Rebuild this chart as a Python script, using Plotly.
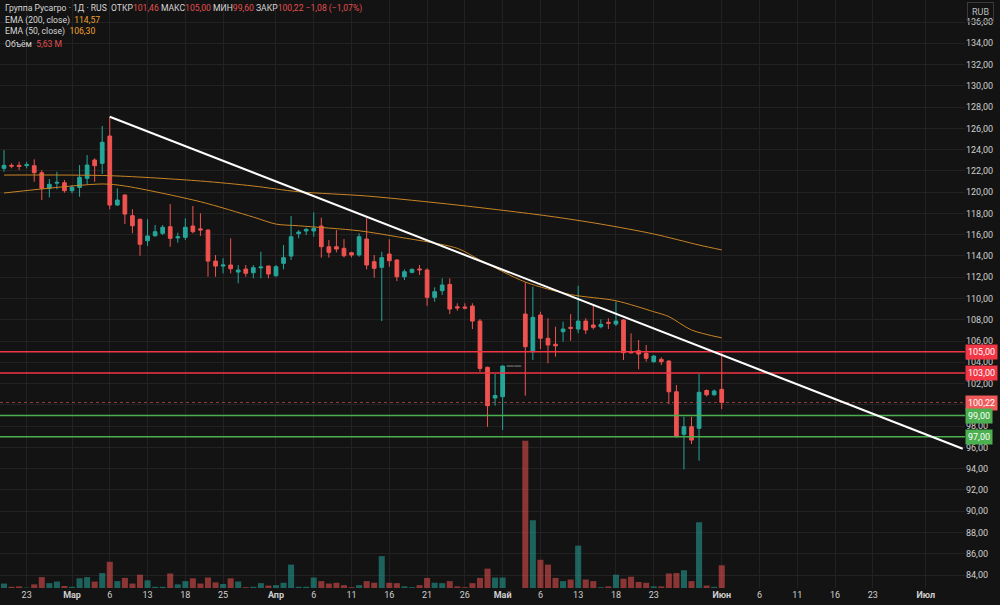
import plotly.graph_objects as go

# ---------------- data ----------------
bar_index = list(range(96))

opens = [122.24, 122.52, 122.52, 122.50, 122.49, 121.83, 120.36, 120.85, 120.89, 120.14,
         120.45, 121.30, 123.02, 122.71, 125.28, 118.79, 119.73, 117.79, 117.45, 115.43,
         115.90, 116.13, 116.75, 115.70, 115.75, 116.82, 116.55, 116.44, 113.52, 113.05,
         113.15, 112.49, 112.77, 112.42, 112.88, 113.06, 112.14, 113.31, 113.99, 116.10,
         116.35, 116.35, 116.82, 114.87, 114.87, 114.72, 114.31, 114.09, 115.59, 113.46,
         112.93, 114.18, 113.62, 112.05, 112.46, 112.78, 112.68, 110.11, 110.73, 111.33,
         109.22, 109.20, 109.29, 107.88, 103.53, 100.64, 100.77, 103.65, 103.65, 108.54,
         104.99, 108.45, 106.26, 105.70, 106.88, 107.29, 107.13, 107.88, 107.51, 107.35,
         107.76, 107.60, 107.98, 105.00, 105.09, 104.85, 104.06, 104.28, 104.12, 101.23,
         97.23, 97.94, 97.79, 101.35, 100.95, 101.46]
highs = [123.96, 122.71, 122.86, 122.86, 123.09, 122.08, 121.23, 121.92, 121.14, 120.67,
         122.55, 123.49, 123.18, 126.22, 127.09, 120.36, 119.80, 118.39, 117.50, 117.45,
         116.91, 116.91, 118.88, 116.19, 117.54, 118.70, 118.01, 116.50, 114.09, 113.78,
         115.66, 113.15, 113.15, 113.15, 114.40, 113.10, 113.15, 115.03, 117.76, 116.44,
         116.66, 118.10, 117.60, 115.50, 116.44, 115.59, 114.40, 116.13, 117.60, 114.09,
         114.40, 115.57, 113.70, 112.74, 112.84, 113.15, 112.84, 111.05, 111.90, 111.90,
         109.55, 109.55, 109.55, 108.07, 103.60, 102.90, 103.70, 103.65, 103.65, 111.52,
         111.11, 108.76, 108.14, 107.35, 107.82, 108.54, 111.20, 108.14, 109.39, 108.04,
         108.14, 109.70, 108.05, 106.73, 106.10, 105.63, 104.69, 104.47, 104.20, 101.87,
         98.88, 98.88, 102.90, 101.45, 101.45, 105.00]
lows = [121.92, 122.24, 122.08, 122.24, 120.98, 119.26, 119.51, 120.27, 119.95, 119.89,
        119.57, 120.77, 120.98, 121.71, 118.39, 118.70, 117.00, 116.13, 114.02, 114.94,
        115.81, 115.97, 114.87, 115.25, 115.50, 116.13, 115.88, 112.05, 112.05, 112.37,
        112.37, 111.43, 112.05, 111.90, 111.90, 111.90, 112.05, 112.74, 113.62, 115.66,
        115.97, 115.81, 113.84, 113.84, 114.34, 113.87, 113.87, 113.93, 112.74, 111.95,
        107.88, 112.99, 111.64, 111.74, 112.37, 112.21, 109.32, 109.70, 110.33, 108.54,
        108.85, 108.98, 107.13, 103.12, 97.94, 99.92, 97.63, 103.65, 103.65, 100.86,
        104.22, 105.25, 103.91, 104.53, 105.94, 106.03, 106.73, 106.66, 107.10, 107.20,
        107.13, 107.41, 104.22, 104.85, 103.34, 104.06, 103.96, 103.75, 100.08, 96.95,
        93.94, 96.32, 94.75, 100.80, 100.85, 99.60]
closes = [122.52, 122.45, 122.42, 122.58, 121.83, 120.36, 120.74, 120.92, 120.14, 120.45,
          121.40, 122.55, 122.49, 124.69, 118.79, 119.26, 117.94, 116.84, 115.10, 115.88,
          116.28, 116.70, 115.66, 115.80, 116.70, 116.28, 116.45, 113.52, 113.05, 113.15,
          112.80, 112.68, 112.37, 112.90, 112.96, 112.30, 112.99, 113.84, 115.81, 116.25,
          116.50, 116.60, 114.87, 114.34, 114.65, 114.02, 114.09, 115.81, 113.15, 112.84,
          113.84, 113.55, 112.05, 112.52, 112.74, 112.70, 110.11, 110.64, 111.27, 109.01,
          109.12, 109.10, 107.88, 103.43, 99.92, 100.88, 103.65, 103.65, 103.65, 105.47,
          108.23, 106.26, 105.63, 105.55, 107.13, 107.20, 107.88, 107.04, 107.29, 107.57,
          107.68, 107.88, 104.90, 104.90, 104.78, 104.38, 104.59, 104.06, 101.23, 97.00,
          97.94, 96.69, 101.18, 100.95, 101.30, 100.22]
volumes_m = [1.1, 0.3, 0.4, 0.1, 0.9, 2.7, 1.2, 1.6, 0.5, 0.3,
             2.4, 2.7, 1.6, 3.7, 6.5, 1.7, 2.5, 1.1, 3.3, 1.9,
             0.3, 0.3, 3.6, 0.9, 1.7, 2.4, 1.1, 2.6, 1.4, 1.0,
             2.4, 1.6, 0.2, 0.3, 1.2, 0.6, 0.7, 1.3, 5.8, 0.3,
             0.3, 2.6, 1.7, 1.1, 1.3, 0.7, 0.2, 0.7, 1.7, 1.3,
             7.9, 1.3, 1.2, 0.4, 0.2, 0.7, 2.5, 1.3, 1.2, 1.7,
             0.4, 0.2, 1.2, 2.5, 4.8, 2.6, 2.6, 0.0, 0.0, 36.5,
             16.8, 7.0, 5.8, 2.5, 1.7, 2.1, 10.5, 2.1, 1.7, 0.2,
             0.4, 3.3, 2.3, 2.8, 1.5, 1.3, 0.4, 0.4, 3.6, 3.7,
             4.4, 1.7, 16.3, 0.6, 0.3, 5.63]
no_trade_bars = [67, 68]

ema200_index = [0, 14, 26, 33, 39, 48, 60, 72, 79, 86, 92, 95]
ema200_values = [121.61, 121.55, 121.05, 120.58, 120.04, 119.64, 118.79, 117.76, 117.00, 116.07, 115.03, 114.57]
ema50_index = [0, 13, 16, 26, 33, 36, 39, 47, 52, 60, 63, 69, 75, 81, 86, 88, 91, 95]
ema50_values = [119.92, 120.77, 120.58, 119.10, 117.66, 117.00, 116.84, 116.37, 115.81, 114.72,
                113.62, 111.55, 110.37, 109.79, 108.76, 108.30, 107.04, 106.30]

trend_index = [14, 126.9]
trend_price = [127.09, 95.87]

resistance_levels = [105.0, 103.0]
support_levels = [99.0, 97.0]
last_price = 100.22

x_tick_index = [3, 9, 14, 19, 24, 29, 36, 41, 46, 51, 56, 61, 66, 71, 76, 81, 86, 95, 100, 105, 110, 115, 122]
x_tick_text = ['23', '<b>Мар</b>', '6', '13', '18', '25', '<b>Апр</b>', '6', '11', '16', '21', '26',
               '<b>Май</b>', '6', '13', '18', '23', '<b>Июн</b>', '6', '11', '16', '23', '<b>Июл</b>']
y_tick_values = list(range(84, 137, 2))
y_tick_text = ['' if v == 100 else f'{v},00' for v in y_tick_values]

# ---------------- styling ----------------
BG = '#131313'
GRID = '#222222'
TXT = '#cfcfcf'
UP = '#26a69a'
DOWN = '#ef5350'
UP_VOL = 'rgba(38,166,154,0.55)'
DOWN_VOL = 'rgba(239,83,80,0.55)'
LEVEL_RED = '#f23645'
LEVEL_GREEN = '#4caf50'
EMA_COLOR = '#c98424'
FONT = 'Roboto'

trade_idx = [i for i in bar_index if i not in no_trade_bars]
vol_colors = [UP_VOL if closes[i] >= opens[i] else DOWN_VOL for i in bar_index]

fig = go.Figure()

fig.add_trace(go.Bar(
    x=bar_index, y=volumes_m, marker=dict(color=vol_colors, line=dict(width=0)),
    yaxis='y2', hoverinfo='skip'))

fig.add_trace(go.Scatter(
    x=ema200_index, y=ema200_values, mode='lines',
    line=dict(color=EMA_COLOR, width=1, shape='spline', smoothing=0.8), hoverinfo='skip'))
fig.add_trace(go.Scatter(
    x=ema50_index, y=ema50_values, mode='lines',
    line=dict(color=EMA_COLOR, width=1, shape='spline', smoothing=0.8), hoverinfo='skip'))

fig.add_trace(go.Candlestick(
    x=trade_idx,
    open=[opens[i] for i in trade_idx],
    high=[highs[i] for i in trade_idx],
    low=[lows[i] for i in trade_idx],
    close=[closes[i] for i in trade_idx],
    increasing=dict(line=dict(color=UP, width=1), fillcolor=UP),
    decreasing=dict(line=dict(color=DOWN, width=1), fillcolor=DOWN),
    whiskerwidth=0, hoverinfo='skip'))

fig.add_trace(go.Scatter(
    x=no_trade_bars, y=[closes[i] for i in no_trade_bars], mode='markers',
    marker=dict(symbol='line-ew', size=5, line=dict(color='#8a8a8a', width=1)),
    hoverinfo='skip'))

shapes = []
for lv in resistance_levels:
    shapes.append(dict(type='line', xref='paper', x0=0, x1=1, yref='y', y0=lv, y1=lv,
                       line=dict(color=LEVEL_RED, width=1.5)))
for lv in support_levels:
    shapes.append(dict(type='line', xref='paper', x0=0, x1=1, yref='y', y0=lv, y1=lv,
                       line=dict(color=LEVEL_GREEN, width=1.5)))
shapes.append(dict(type='line', xref='paper', x0=0, x1=1, yref='y', y0=last_price, y1=last_price,
                   line=dict(color='rgba(200,80,80,0.7)', width=1, dash='dot')))
shapes.append(dict(type='line', xref='x', yref='y', x0=trend_index[0], y0=trend_price[0],
                   x1=trend_index[1], y1=trend_price[1], line=dict(color='#ffffff', width=2)))

annotations = []
def fmt(v):
    return f'{v:.2f}'.replace('.', ',')

for lv, col in [(resistance_levels[0], LEVEL_RED), (resistance_levels[1], LEVEL_RED),
                (last_price, '#f05a5a'), (support_levels[0], LEVEL_GREEN), (support_levels[1], LEVEL_GREEN)]:
    annotations.append(dict(xref='paper', x=1.0, xanchor='left', yref='y', y=lv, yanchor='middle',
                            text=fmt(lv), showarrow=False, bgcolor=col, borderpad=2,
                            font=dict(family=FONT, size=9, color='#ffffff')))

annotations.append(dict(xref='paper', x=1.0 + 2 / 965, xanchor='left', yref='paper', y=1 - 2 / 588,
                        yanchor='top', text='RUB', showarrow=False, bordercolor='#3a3a3a',
                        borderwidth=1, borderpad=4, font=dict(family=FONT, size=9, color='#bdbdbd')))

R = '#e0504f'
O = '#f0a030'
W = '#d6d6d6'
sp = '&nbsp;'
line1 = (f"<span style='color:{W}'>Группа Русагро · 1Д · RUS</span>{sp}{sp}"
         f"<span style='color:{W}'>ОТКР</span><span style='color:{R}'>{fmt(opens[-1])}</span>{sp}"
         f"<span style='color:{W}'>МАКС</span><span style='color:{R}'>{fmt(highs[-1])}</span>{sp}"
         f"<span style='color:{W}'>МИН</span><span style='color:{R}'>{fmt(lows[-1])}</span>{sp}"
         f"<span style='color:{W}'>ЗАКР</span><span style='color:{R}'>{fmt(closes[-1])}</span>{sp}"
         f"<span style='color:{R}'>−1,08 (−1,07%)</span>")
legend_lines = [
    line1,
    f"<span style='color:{W}'>EMA (200, close)</span>{sp}{sp}<span style='color:{O}'>{fmt(ema200_values[-1])}</span>",
    f"<span style='color:{W}'>EMA (50, close)</span>{sp}{sp}<span style='color:{O}'>{fmt(ema50_values[-1])}</span>",
    f"<span style='color:{W}'>Объём</span>{sp}{sp}<span style='color:{R}'>5,63 M</span>",
]
for k, t in enumerate(legend_lines):
    annotations.append(dict(xref='paper', x=3 / 965, xanchor='left', yref='paper',
                            y=1 - (8.5 + 11.7 * k) / 588, yanchor='middle', text=t, showarrow=False,
                            font=dict(family=FONT, size=8.6, color=W)))

fig.update_layout(
    width=1000, height=605, autosize=False,
    margin=dict(l=0, r=35, t=0, b=17),
    paper_bgcolor=BG, plot_bgcolor=BG,
    showlegend=False, hovermode=False, separators=', ',
    font=dict(family=FONT, size=9, color=TXT),
    xaxis=dict(range=[-0.53, 127.2], tickmode='array', tickvals=x_tick_index, ticktext=x_tick_text,
               showgrid=True, gridcolor=GRID, gridwidth=1, zeroline=False, showline=False, ticks='',
               tickfont=dict(family=FONT, size=9, color=TXT), rangeslider=dict(visible=False),
               fixedrange=True),
    yaxis=dict(range=[82.78, 138.07], side='right', tickmode='array', tickvals=y_tick_values,
               ticktext=y_tick_text, showgrid=True, gridcolor=GRID, gridwidth=1, zeroline=False,
               showline=False, ticks='', tickfont=dict(family=FONT, size=9, color=TXT), fixedrange=True),
    yaxis2=dict(overlaying='y', range=[0, 145.8], visible=False, fixedrange=True),
    bargap=0.2,
    shapes=shapes, annotations=annotations,
)

fig.write_html('out.html', config={'displayModeBar': False})
